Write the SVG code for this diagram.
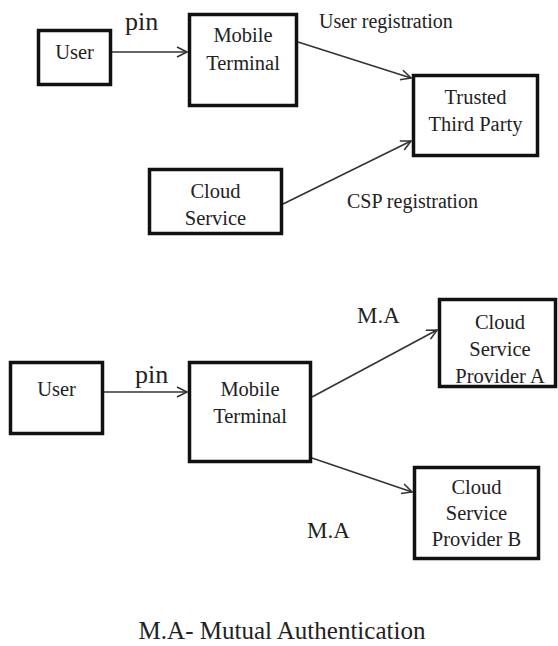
<svg xmlns="http://www.w3.org/2000/svg" width="558" height="646" viewBox="0 0 558 646">
  <style>
    .box { fill: #ffffff; stroke: #111111; stroke-width: 3.5; }
    text { font-family: 'Liberation Serif', 'Times New Roman', Times, 'DejaVu Serif', serif; fill: #222222; }
    .lbl { font-size: 20.5px; text-anchor: middle; }
    .edge { font-size: 20px; }
    .big { font-size: 26px; }
    .ma { font-size: 23px; }
    .note { font-size: 25px; text-anchor: middle; }
    .link { stroke: #333333; stroke-width: 1.6; fill: none; marker-end: url(#arrow); }
  </style>
  <defs>
    <marker id="arrow" markerUnits="userSpaceOnUse" markerWidth="14" markerHeight="14" refX="11" refY="6" orient="auto">
      <path d="M1,1 L11,6 L1,11" fill="none" stroke="#333333" stroke-width="1.6"/>
    </marker>
  </defs>
  <rect width="558" height="646" fill="#ffffff"/>

  <!-- connectors -->
  <g id="connectors">
    <line class="link" x1="112" y1="52" x2="187" y2="52"/>
    <line class="link" x1="298" y1="42" x2="411" y2="78"/>
    <line class="link" x1="283" y1="204" x2="411" y2="141"/>
    <line class="link" x1="104" y1="392" x2="187" y2="392"/>
    <line class="link" x1="312" y1="397" x2="437" y2="330"/>
    <line class="link" x1="312" y1="458" x2="412" y2="492"/>
  </g>

  <!-- connector labels -->
  <g id="labels">
    <text class="big" x="125" y="30">pin</text>
    <text class="edge" x="319" y="28">User registration</text>
    <text class="edge" x="347" y="208">CSP registration</text>
    <text class="big" x="135" y="383">pin</text>
    <text class="ma" x="357" y="323">M.A</text>
    <text class="ma" x="307" y="538">M.A</text>
  </g>

  <!-- registration phase -->
  <g id="user-top">
    <rect class="box" x="38.5" y="30.5" width="72" height="54"/>
    <text class="lbl" x="74.5" y="59">User</text>
  </g>
  <g id="mobile-terminal-top">
    <rect class="box" x="189.5" y="14.5" width="107" height="91"/>
    <text class="lbl" x="243" y="42">Mobile</text>
    <text class="lbl" x="243" y="70">Terminal</text>
  </g>
  <g id="trusted-third-party">
    <rect class="box" x="413.5" y="75.5" width="124" height="80"/>
    <text class="lbl" x="475.5" y="104">Trusted</text>
    <text class="lbl" x="475.5" y="131">Third Party</text>
  </g>
  <g id="cloud-service">
    <rect class="box" x="149.5" y="169.5" width="132" height="64"/>
    <text class="lbl" x="215.5" y="198">Cloud</text>
    <text class="lbl" x="215.5" y="225">Service</text>
  </g>

  <!-- authentication phase -->
  <g id="user-bottom">
    <rect class="box" x="10.5" y="362.5" width="92" height="71"/>
    <text class="lbl" x="56.5" y="396">User</text>
  </g>
  <g id="mobile-terminal-bottom">
    <rect class="box" x="189.5" y="362.5" width="121" height="99"/>
    <text class="lbl" x="250" y="396">Mobile</text>
    <text class="lbl" x="250" y="423">Terminal</text>
  </g>
  <g id="csp-a">
    <rect class="box" x="439.5" y="299.5" width="116" height="87"/>
    <text class="lbl" x="500" y="329">Cloud</text>
    <text class="lbl" x="500" y="356">Service</text>
    <text class="lbl" x="500" y="383">Provider A</text>
  </g>
  <g id="csp-b">
    <rect class="box" x="414.5" y="467.5" width="124" height="91"/>
    <text class="lbl" x="476.5" y="494">Cloud</text>
    <text class="lbl" x="476.5" y="520">Service</text>
    <text class="lbl" x="476.5" y="546">Provider B</text>
  </g>

  <!-- legend -->
  <text class="note" x="282" y="639">M.A- Mutual Authentication</text>
</svg>
